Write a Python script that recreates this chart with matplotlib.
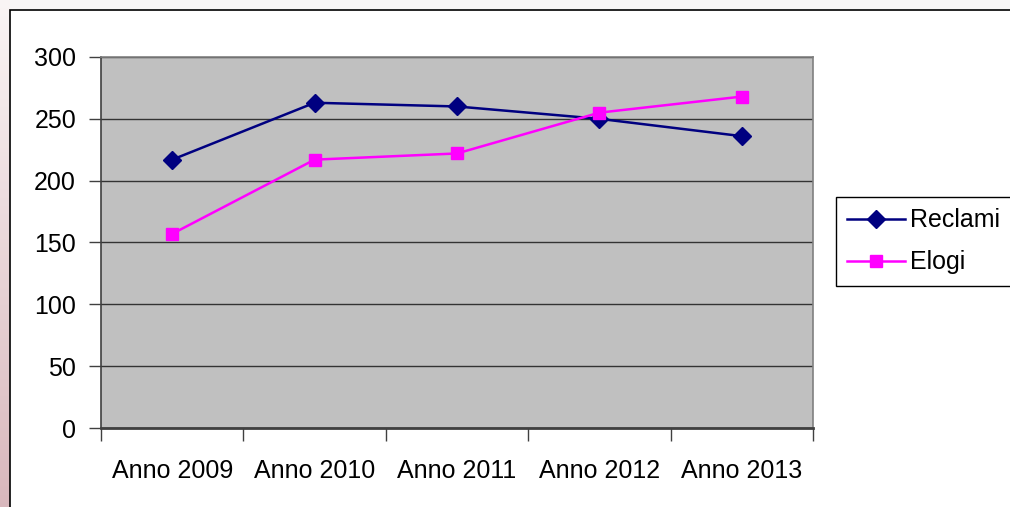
import matplotlib
matplotlib.use("Agg")
import matplotlib.pyplot as plt
import numpy as np
from matplotlib.patches import Rectangle

categories = ["Anno 2009", "Anno 2010", "Anno 2011", "Anno 2012", "Anno 2013"]
reclami = [217, 263, 260, 250, 236]
elogi = [157, 217, 222, 255, 268]
yticks = [0, 50, 100, 150, 200, 250, 300]

plt.rcParams['font.family'] = ['Liberation Sans', 'DejaVu Sans']

W, H = 1010, 507
fig = plt.figure(figsize=(W/100, H/100), dpi=100)
fig.patch.set_facecolor('white')

# left gradient strip (slide background)
gax = fig.add_axes([0, 0, 10/W, 1])
grad = np.linspace(0, 1, 256).reshape(-1, 1)
top = np.array([0.98, 0.96, 0.96])
bot = np.array([0.85, 0.72, 0.74])
img = top[None, None, :] * (1 - grad[:, :, None]) + bot[None, None, :] * grad[:, :, None]
gax.imshow(img, aspect='auto', extent=[0, 1, 0, 1], origin='upper')
gax.axis('off')
# top strip
fig.patches.append(Rectangle((10/W, 1 - 10/H), 1, 10/H, transform=fig.transFigure,
                             facecolor=(0.97, 0.96, 0.96), edgecolor='none', zorder=0))
# chart border
fig.patches.append(Rectangle((10/W, -0.05), 1.2, 1.05 - 10/H, transform=fig.transFigure,
                             facecolor='none', edgecolor='black', linewidth=1.2, zorder=5))

ax = fig.add_axes([101/W, 1 - 428/H, (813 - 101)/W, (428 - 57)/H])
ax.set_facecolor('#c0c0c0')
x = np.arange(len(categories))
ax.plot(x, reclami, color='#000080', lw=1.8, marker='D', markersize=9, label='Reclami', zorder=3)
ax.plot(x, elogi, color='#ff00ff', lw=1.8, marker='s', markersize=9, label='Elogi', zorder=3)

ax.set_xlim(-0.5, 4.5)
ax.set_ylim(0, 300)
ax.set_yticks(yticks)
ax.set_yticklabels([str(v) for v in yticks])
ax.yaxis.grid(True, color='#333333', lw=1.0)
ax.set_axisbelow(True)

ax.set_xticks(x)
ax.set_xticklabels(categories)
ax.set_xticks(np.arange(-0.5, 5, 1), minor=True)
ax.tick_params(axis='x', which='major', length=0, pad=22, labelsize=18)
ax.tick_params(axis='x', which='minor', length=9, width=1, color='#404040')
ax.tick_params(axis='y', length=9, width=1, color='#404040', pad=9, labelsize=18)

for s in ['top', 'right']:
    ax.spines[s].set_color('#808080')
    ax.spines[s].set_linewidth(1.2)
ax.spines['left'].set_color('#404040')
ax.spines['left'].set_linewidth(1.2)
ax.spines['bottom'].set_color('#404040')
ax.spines['bottom'].set_linewidth(2)

leg = fig.legend(loc='upper left', bbox_to_anchor=(836/W, 1 - 197/H), fontsize=18,
                 frameon=True, fancybox=False, edgecolor='black', framealpha=1,
                 borderaxespad=0, handlelength=2.3, handletextpad=0.2, borderpad=0.45,
                 labelspacing=0.72)
leg.get_frame().set_linewidth(1.0)

fig.savefig('out.png', dpi=100)
